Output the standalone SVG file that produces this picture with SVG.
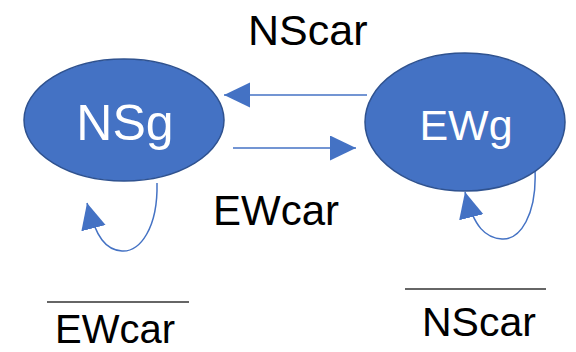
<svg xmlns="http://www.w3.org/2000/svg" width="576" height="352" viewBox="0 0 576 352">
  <style>
    .state { fill: #4472C4; stroke: #2F528F; stroke-width: 1.5; }
    .state-label { fill: #FFFFFF; font-family: "Liberation Sans", Arial, sans-serif; text-anchor: middle; }
    .edge { fill: none; stroke: #4472C4; stroke-width: 1.5; }
    .cond { fill: #000000; font-family: "Liberation Sans", Arial, sans-serif; }
    .bar { stroke: #333333; stroke-width: 1.3; }
  </style>
  <defs>
    <marker id="head" markerUnits="userSpaceOnUse" markerWidth="27" markerHeight="26" refX="26" refY="12.5" orient="auto">
      <path d="M0,0 L26,12.5 L0,25 Z" fill="#4472C4"/>
    </marker>
  </defs>

  <!-- transitions -->
  <g id="connectors">
    <path class="edge" d="M367,95 L224,95" marker-end="url(#head)"/>
    <path class="edge" d="M233,148 L356,148" marker-end="url(#head)"/>
    <path class="edge" d="M157,183 C158,228 140,252 122,251 C106,250 96,238 87,203" marker-end="url(#head)"/>
    <path class="edge" d="M535,170 C537,215 520,240 502,239 C486,238 474,228 465,192" marker-end="url(#head)"/>
  </g>

  <!-- states -->
  <g id="NSg">
    <ellipse class="state" cx="124" cy="120" rx="100" ry="61"/>
    <text class="state-label" x="125" y="140" font-size="50">NSg</text>
  </g>
  <g id="EWg">
    <ellipse class="state" cx="465" cy="122" rx="100" ry="69"/>
    <text class="state-label" x="466" y="140" font-size="43">EWg</text>
  </g>

  <!-- transition conditions -->
  <g id="labels">
    <text class="cond" x="248" y="45" font-size="43">NScar</text>
    <text class="cond" x="213" y="225" font-size="42">EWcar</text>
    <line class="bar" x1="47" y1="302" x2="189" y2="302"/>
    <text class="cond" x="55" y="343" font-size="40">EWcar</text>
    <line class="bar" x1="405" y1="289" x2="546" y2="289"/>
    <text class="cond" x="422" y="336" font-size="41">NScar</text>
  </g>
</svg>
